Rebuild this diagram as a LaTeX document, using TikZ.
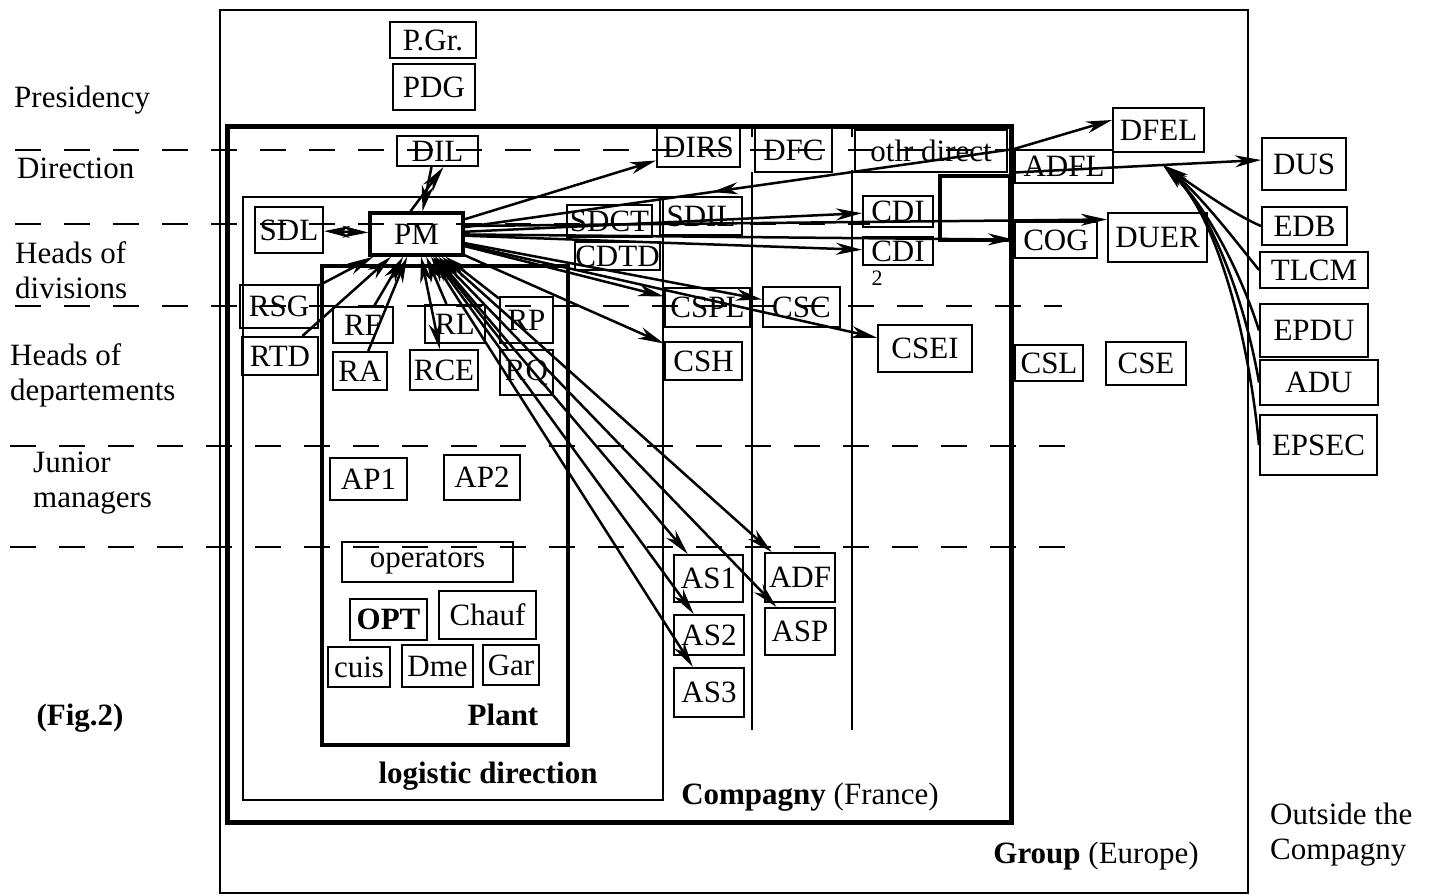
\documentclass[tikz,border=0pt]{standalone}
\usepackage{fontspec}
\setmainfont{Liberation Serif}
\usetikzlibrary{arrows.meta,decorations.markings}
\newcommand\boxat[6]{\node[bx, minimum width={#4-#2}, minimum height={#5-#3}] (#1) at ({(#2+#4)/2},{(#3+#5)/2}) {#6};}
\begin{document}
\begin{tikzpicture}[x=1pt,y=-1pt,
  bx/.style={draw, line width=2pt, inner sep=0pt, font=\fontsize{31}{35}\selectfont},
  lbl/.style={inner sep=0pt, font=\fontsize{31}{35}\selectfont, align=left},
  blbl/.style={inner sep=0pt, font=\fontsize{31}{35}\selectfont\bfseries, align=left},
  lvl/.style={line width=2.5pt, dash pattern=on 26pt off 23pt},
  arr/.style={line width=2.5pt, -{Stealth[length=26pt,width=12pt,inset=8pt]}},
  arrb/.style={line width=2.5pt, {Stealth[length=26pt,width=12pt,inset=8pt]}-{Stealth[length=26pt,width=12pt,inset=8pt]}},
  midarr/.style={line width=2.5pt, postaction={decorate},
    decoration={markings, mark=at position 0.55 with {\arrow{Stealth[length=26pt,width=12pt,inset=8pt]}}}}
]
\useasboundingbox (0,0) rectangle (1435,895);
\fill[white] (0,0) rectangle (1435,895);

% level lines
\draw[lvl] (15,150) -- (1010,150);
\draw[lvl] (15,224) -- (870,224);
\draw[lvl] (15,306) -- (1062,306);
\draw[lvl] (10,446) -- (1088,446);
\draw[lvl] (10,547) -- (1088,547);

% frames
\draw[line width=2.5pt] (220,10) rectangle (1248,893);
\draw[line width=5pt] (227,126) rectangle (1011,822);
\draw[line width=2pt] (243,197) rectangle (663,800);
\draw[line width=3.5pt] (322,266) rectangle (568,745);
\draw[line width=2pt] (752,126) -- (752,137) (752,172) -- (752,730);
\draw[line width=2pt] (852,126) -- (852,137) (852,170) -- (852,730);
\draw[line width=4pt] (940,176) rectangle (1010,240);

% boxes
\boxat{PGr}{390}{22}{476}{58}{P.Gr.}
\boxat{PDG}{393}{64}{475}{110}{PDG}
\boxat{DIL}{397}{136}{478}{166}{DIL}
\boxat{DIRS}{657}{128}{740}{167}{DIRS}
\boxat{DFC}{755}{128}{832}{172}{DFC}
\boxat{otlr}{855}{130}{1007}{172}{otlr direct}
\boxat{SDCT}{567}{205}{652}{237}{SDCT}
\boxat{SDIL}{660}{197}{742}{235}{SDIL}
\boxat{CDTD}{575}{242}{660}{270}{CDTD}
\boxat{CDIa}{863}{196}{933}{227}{CDI}
\boxat{CDIb}{863}{237}{933}{265}{CDI}
\node[inner sep=0pt, font=\fontsize{22}{24}\selectfont] (two) at (877,278) {2};
\boxat{ADFL}{1015}{150}{1113}{183}{ADFL}
\boxat{DFEL}{1113}{108}{1204}{152}{DFEL}
\boxat{DUS}{1262}{138}{1346}{190}{DUS}
\boxat{EDB}{1262}{207}{1347}{245}{EDB}
\boxat{TLCM}{1260}{252}{1368}{288}{TLCM}
\boxat{EPDU}{1260}{304}{1368}{357}{EPDU}
\boxat{ADU}{1260}{360}{1378}{405}{ADU}
\boxat{EPSEC}{1260}{415}{1377}{475}{EPSEC}
\boxat{COG}{1015}{222}{1097}{258}{COG}
\boxat{DUER}{1108}{213}{1207}{262}{DUER}
\boxat{CSL}{1015}{345}{1083}{381}{CSL}
\boxat{CSE}{1106}{342}{1186}{385}{CSE}
\boxat{SDL}{255}{207}{323}{253}{SDL}
\node[bx, line width=3.5pt, minimum width=93, minimum height=42] (PM) at (416.5,234) {PM};
\boxat{RSG}{240}{285}{318}{328}{RSG}
\boxat{RTD}{242}{337}{318}{375}{RTD}
\boxat{RF}{333}{307}{393}{343}{RF}
\boxat{RA}{333}{352}{387}{390}{RA}
\boxat{RL}{425}{305}{485}{343}{RL}
\boxat{RCE}{410}{350}{478}{390}{RCE}
\boxat{RP}{500}{297}{553}{343}{RP}
\boxat{RQ}{500}{350}{553}{395}{RQ}
\boxat{AP1}{330}{458}{407}{500}{AP1}
\boxat{AP2}{444}{455}{520}{500}{AP2}
\boxat{oper}{342}{542}{513}{582}{operators}
\node[bx, minimum width=77, minimum height=41, font=\fontsize{31}{35}\selectfont\bfseries] (OPT) at (388.5,619.5) {OPT};
\boxat{Chauf}{439}{591}{536}{639}{Chauf}
\boxat{cuis}{328}{647}{390}{687}{cuis}
\boxat{Dme}{402}{645}{473}{687}{Dme}
\boxat{Gar}{483}{645}{539}{685}{Gar}
\boxat{CSPL}{665}{288}{750}{327}{CSPL}
\boxat{CSC}{763}{287}{840}{327}{CSC}
\boxat{CSEI}{878}{325}{972}{372}{CSEI}
\boxat{CSH}{665}{342}{742}{380}{CSH}
\boxat{AS1}{674}{555}{743}{602}{AS1}
\boxat{AS2}{674}{615}{744}{655}{AS2}
\boxat{AS3}{674}{668}{744}{717}{AS3}
\boxat{ADF}{765}{553}{835}{602}{ADF}
\boxat{ASP}{765}{608}{835}{655}{ASP}

% labels
\node[lbl, anchor=west] (tPres) at (14,100) {Presidency};
\node[lbl, anchor=west] (tDir) at (17,168) {Direction};
\node[lbl, anchor=west] (tHD) at (15,270) {Heads of\\divisions};
\node[lbl, anchor=west] (tHDep) at (10,375) {Heads of\\departements};
\node[lbl, anchor=west] (tJun) at (33,483) {Junior\\managers};
\node[blbl] (tFig) at (80,718) {(Fig.2)};
\node[blbl] (tPlant) at (503,715) {Plant};
\node[blbl] (tLog) at (488,776) {logistic direction};
\node[lbl] (tComp) at (810,797) {\textbf{Compagny} (France)};
\node[lbl] (tGroup) at (1096,856) {\textbf{Group} (Europe)};
\node[lbl, anchor=west] (tOut) at (1270,835) {Outside the\\Compagny};

% connectors around PM
\draw[arr] ([xshift=-6pt]DIL.south) -- ([xshift=6pt]PM.north);
\draw[arr] ([xshift=-6pt]PM.north) -- ([xshift=6pt]DIL.south);
\draw[arrb] (SDL) -- (PM);
\draw[arr] (RSG) -- (PM);
\draw[arr] (RTD) -- (PM);
\draw[arr] (RF) -- (PM);
\draw[arr] (RA) -- (PM);
\draw[arrb] (RCE) -- (PM);
\draw[arr] (RL) -- (PM);
\draw[arr] (RP) -- (PM);
\draw[arr] (RQ) -- (PM);
\draw[arrb] (PM) -- (AS1);
\draw[arrb] (PM) -- (AS2);
\draw[arrb] (PM) -- (AS3);
\draw[arrb] (PM) -- (ASP);
\draw[arrb] (PM) -- (ADF);
\draw[arr] (PM) -- (DIRS);
\draw[arr] (PM) -- (CDIa);
\draw[arr] (PM) -- (CDIb);
\draw[arr] (PM) -- (COG);
\draw[arr] ([yshift=8pt]PM.east) -- ([yshift=18pt]DUER.west);
\draw[arr] (PM) -- (CSPL);
\draw[arr] (PM) -- (CSH);
\draw[arr] (PM) -- (CSC);
\draw[arr] (PM) -- (CSEI);
\draw[midarr] (ADFL.north west) -- (PM);

% connectors to the outside
\draw[arr] (ADFL.north west) -- ([yshift=10pt]DFEL.west);
\draw[arr] ([yshift=-6pt]ADFL.west) -- ([yshift=4pt]DUS.west);
\coordinate (hub) at (1163,165);
\draw[arr] (EDB.west) .. controls (1235,215) and (1200,190) .. (hub);
\draw[arr] (TLCM.west) .. controls (1235,240) and (1200,195) .. (hub);
\draw[arr] (EPDU.west) .. controls (1240,270) and (1205,205) .. (hub);
\draw[arr] (ADU.west) .. controls (1245,300) and (1210,210) .. (hub);
\draw[arr] (EPSEC.west) .. controls (1248,330) and (1215,215) .. (hub);
\end{tikzpicture}
\end{document}
